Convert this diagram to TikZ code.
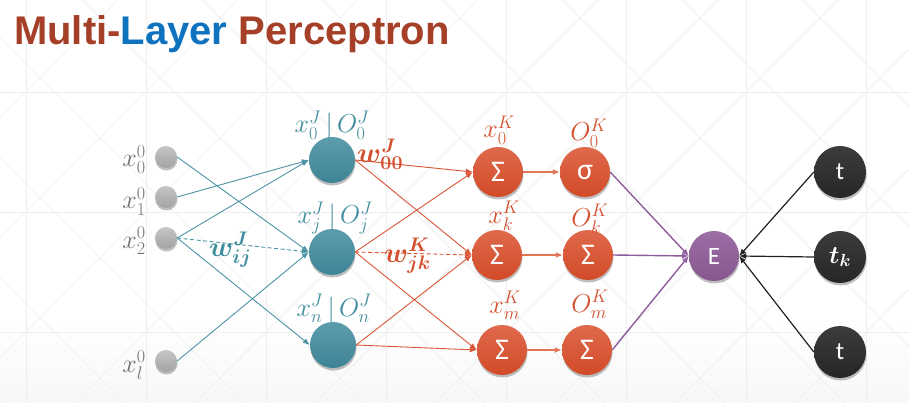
\RequirePackage{fix-cm}
\documentclass[tikz,border=0pt]{standalone}
\usepackage{amsmath,bm}
\usepackage{fontspec}
\newfontfamily\sansf{Liberation Sans}
\newfontfamily\calf{Carlito}
\usetikzlibrary{arrows.meta,shadows}
\definecolor{titlered}{HTML}{A53F27}
\definecolor{titleblue}{HTML}{0F72BE}
\definecolor{tealtop}{HTML}{5C9DAD}
\definecolor{tealbot}{HTML}{3E8496}
\definecolor{orgtop}{HTML}{DE6A4C}
\definecolor{orgbot}{HTML}{D24A27}
\definecolor{purtop}{HTML}{9C6EA6}
\definecolor{purbot}{HTML}{87568F}
\definecolor{darktop}{HTML}{3C3C3C}
\definecolor{darkbot}{HTML}{262626}
\definecolor{graytop}{HTML}{C6C6C6}
\definecolor{graybot}{HTML}{A2A2A2}
\definecolor{tealedge}{HTML}{4D95A5}
\definecolor{orgedge}{HTML}{DA5636}
\definecolor{orglight}{HTML}{E27558}
\definecolor{puredge}{HTML}{8E5C9C}
\definecolor{darkedge}{HTML}{222222}
\definecolor{graylab}{HTML}{707070}
\definecolor{teallab}{HTML}{3F8D9D}
\definecolor{orglab}{HTML}{D4512F}
\definecolor{gridc}{HTML}{EEEEEE}
\begin{document}
\begin{tikzpicture}[x=1pt,y=-1pt,
  shad/.style={drop shadow={shadow xshift=0.5pt,shadow yshift=-2.5pt,opacity=0.25,fill=black}},
  inp/.style={circle,minimum size=22pt,inner sep=0pt,top color=graytop,bottom color=graybot,shad},
  hid/.style={circle,minimum size=46pt,inner sep=0pt,top color=tealtop,bottom color=tealbot,shad},
  sumn/.style={circle,minimum size=50pt,inner sep=0pt,top color=orgtop,bottom color=orgbot,shad,text=white,font=\calf\fontsize{30}{32}\selectfont},
  errn/.style={circle,minimum size=50pt,inner sep=0pt,top color=purtop,bottom color=purbot,shad,text=white,font=\calf\fontsize{25}{27}\selectfont},
  tnode/.style={circle,minimum size=52pt,inner sep=0pt,top color=darktop,bottom color=darkbot,shad,text=white,font=\calf\fontsize{25}{27}\selectfont},
  lab/.style={inner sep=0pt,font=\fontsize{26}{28}\selectfont},
  wlab/.style={inner sep=0pt,font=\fontsize{28}{30}\selectfont},
  tealarr/.style={draw=tealedge,line width=0.9pt,-{Latex[length=7pt,width=5.5pt]}},
  orgarr/.style={draw=orgedge,line width=0.9pt,-{Latex[length=7pt,width=5.5pt]}},
  orgthick/.style={draw=orglight,line width=1.5pt,-{Latex[length=7pt,width=6pt]}},
  purarr/.style={draw=puredge,line width=1.4pt,-{Latex[length=7pt,width=6pt]}},
  darkarr/.style={draw=darkedge,line width=1.2pt,-{Latex[length=7pt,width=6pt]}},
  dashy/.style={dash pattern=on 4pt off 2.5pt}
]
\useasboundingbox (0,0) rectangle (909,403);
\fill[white] (0,0) rectangle (909,403);
\shade[top color=white,bottom color=black!3] (0,318) rectangle (909,403);
% background grid
\begin{scope}
\clip (0,0) rectangle (909,403);
\foreach \gx in {26,146,266,386,506,626,746,866} \draw[gridc,line width=0.7pt] (\gx,0) -- (\gx,403);
\foreach \gy in {92,212,332} \draw[gridc,line width=0.7pt] (0,\gy) -- (909,\gy);
\foreach \k in {-4,...,8} \draw[gridc,line width=0.7pt] ({-66+120*\k},-28) -- ({-66+120*\k+431},403);
\foreach \k in {-1,...,11} \draw[gridc,line width=0.7pt] ({118+120*\k},0) -- ({118+120*\k-403},403);
\end{scope}
% title
\node[anchor=base west,inner sep=0pt,font=\sansf\bfseries\fontsize{40}{42}\selectfont] (title) at (14,45)
  {\textcolor{titlered}{Multi-}\textcolor{titleblue}{Layer} \textcolor{titlered}{Perceptron}};
% input nodes
\node[inp] (i0) at (166,157) {};
\node[inp] (i1) at (166,197) {};
\node[inp] (i2) at (166,238) {};
\node[inp] (il) at (166,361) {};
\node[lab,text=graylab,anchor=base east] (li0) at (146,167) {$x_0^0$};
\node[lab,text=graylab,anchor=base east] (li1) at (146,209) {$x_1^0$};
\node[lab,text=graylab,anchor=base east] (li2) at (146,248) {$x_2^0$};
\node[lab,text=graylab,anchor=base east] (lil) at (146,372) {$x_l^0$};
% hidden nodes
\node[hid] (h0) at (332,160) {};
\node[hid] (hj) at (332,252) {};
\node[hid] (hn) at (333,345) {};
\node[lab,text=teallab,anchor=base] (lh0) at (332,133) {$x_0^J\,|\,O_0^J$};
\node[lab,text=teallab,anchor=base] (lhj) at (335,224) {$x_j^J\,|\,O_j^J$};
\node[lab,text=teallab,anchor=base] (lhn) at (334,316) {$x_n^J\,|\,O_n^J$};
% K layer
\node[sumn] (s0) at (498,172) {Σ};
\node[sumn] (sk) at (497,255) {Σ};
\node[sumn] (sm) at (502,350) {Σ};
\node[sumn] (o0) at (585,172) {σ};
\node[sumn] (ok) at (588,255) {Σ};
\node[sumn] (om) at (587,350) {Σ};
\node[lab,text=orglab,anchor=base] (ls0) at (499,138) {$x_0^K$};
\node[lab,text=orglab,anchor=base] (lsk) at (504,223) {$x_k^K$};
\node[lab,text=orglab,anchor=base] (lsm) at (505,313) {$x_m^K$};
\node[lab,text=orglab,anchor=base] (lo0) at (589,141) {$O_0^K$};
\node[lab,text=orglab,anchor=base] (lok) at (590,226) {$O_k^K$};
\node[lab,text=orglab,anchor=base] (lom) at (590,312) {$O_m^K$};
% error and targets
\node[errn] (E) at (714,256) {E};
\node[tnode] (t0) at (840,172) {t};
\node[tnode,font=\fontsize{25}{27}\selectfont] (tk) at (840,257) {$\bm{t_k}$};
\node[tnode] (tm) at (840,352) {t};
% input -> hidden
\draw[tealarr] (i0.east) -- (hj.west);
\draw[tealarr] (i1.east) -- (h0.west);
\draw[tealarr] (i2.east) -- (h0.west);
\draw[tealarr,dashy] (i2.east) -- (hj.west);
\draw[tealarr] (i2.east) -- (hn.west);
\draw[tealarr] (il.east) -- (hj.west);
% hidden -> K
\draw[orgarr] (h0.east) -- (s0.west);
\draw[orgarr] (h0.east) -- (sk.west);
\draw[orgarr] (hj.east) -- (s0.west);
\draw[orgarr,dashy] (hj.east) -- (sk.west);
\draw[orgarr] (hj.east) -- (sm.west);
\draw[orgarr] (hn.east) -- (sk.west);
\draw[orgarr] (hn.east) -- (sm.west);
% sum -> out
\draw[orgthick] (s0) -- (o0);
\draw[orgthick] (sk) -- (ok);
\draw[orgthick] (sm) -- (om);
% out -> E
\draw[purarr] (o0.east) -- (E.west);
\draw[purarr] (ok.east) -- (E.west);
\draw[purarr] (om.east) -- (E.west);
% targets -> E
\draw[darkarr] (t0.west) -- (E.east);
\draw[darkarr] (tk.west) -- (E.east);
\draw[darkarr] (tm.west) -- (E.east);
% weight labels
\node[wlab,text=teallab,anchor=base west] (wij) at (209,256) {$\bm{w_{ij}^{J}}$};
\node[wlab,text=orglab,anchor=base west] (w00) at (357,163) {$\bm{w_{00}^{J}}$};
\node[wlab,text=orglab,anchor=base west] (wjk) at (384,262) {$\bm{w_{jk}^{K}}$};
\end{tikzpicture}
\end{document}
